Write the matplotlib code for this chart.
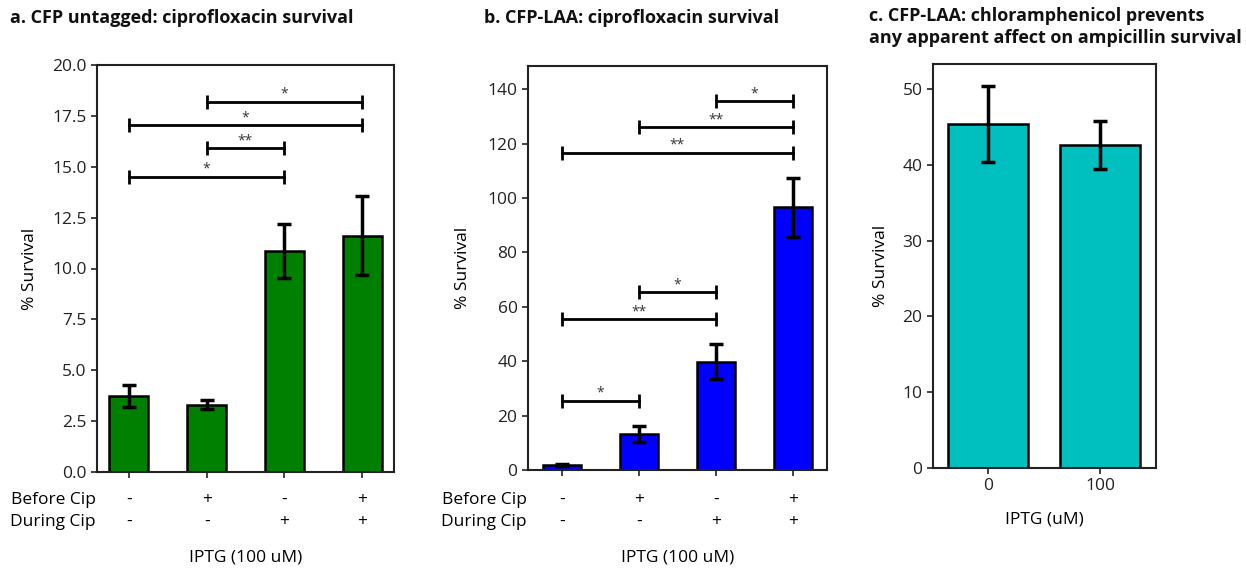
import matplotlib
matplotlib.use("Agg")
import matplotlib.pyplot as plt
import matplotlib.transforms as mtransforms

plt.rcParams['font.family'] = ['Open Sans', 'DejaVu Sans']

# ---- data ----
before_cip = ['-', '+', '-', '+']
during_cip = ['-', '-', '+', '+']

a_vals = [3.72, 3.30, 10.86, 11.62]
a_errs = [0.55, 0.22, 1.33, 1.95]
a_sig = [(0, 2, 14.5, '*'), (1, 2, 15.9, '**'), (0, 3, 17.05, '*'), (1, 3, 18.2, '*')]
a_yticks = [0.0, 2.5, 5.0, 7.5, 10.0, 12.5, 15.0, 17.5, 20.0]

b_vals = [1.8, 13.2, 39.8, 96.5]
b_errs = [0.3, 3.0, 6.5, 11.0]
b_sig = [(0, 1, 25.5, '*'), (0, 2, 55.5, '**'), (1, 2, 65.3, '*'),
         (0, 3, 116.6, '**'), (1, 3, 126.0, '**'), (2, 3, 135.6, '*')]
b_yticks = [0, 20, 40, 60, 80, 100, 120, 140]

c_labels = ['0', '100']
c_vals = [45.4, 42.6]
c_errs = [5.0, 3.2]
c_yticks = [0, 10, 20, 30, 40, 50]

W, H = 1246, 571
fig = plt.figure(figsize=(W / 100, H / 100), dpi=100)

def px_axes(l, t, r, b):
    return fig.add_axes([l / W, (H - b) / H, (r - l) / W, (b - t) / H])

TICK_FS = 12.5
LABEL_FS = 12.5
TITLE_FS = 13

def style(ax):
    for s in ax.spines.values():
        s.set_linewidth(1.5)
        s.set_color('#222222')
    ax.tick_params(axis='both', direction='out', length=4, width=1.2,
                   labelsize=TICK_FS, colors='#222222')

def draw_sig(ax, sigs):
    for x0, x1, y, lab in sigs:
        ax.plot([x0, x1], [y, y], color='black', lw=2, zorder=5)
        ax.plot([x0, x1], [y, y], linestyle='none', marker='|', markersize=10,
                markeredgewidth=2, color='black', zorder=5)
        ax.text((x0 + x1) / 2, y, lab, ha='center', va='bottom',
                fontsize=10, color='#333333', zorder=6)

def condition_rows(ax):
    trans = mtransforms.blended_transform_factory(ax.transData, fig.transFigure)
    trans_ax = mtransforms.blended_transform_factory(ax.transAxes, fig.transFigure)
    y1 = (H - 500) / H
    y2 = (H - 522) / H
    ax.text(-0.005, y1, 'Before Cip', transform=trans_ax, ha='right', va='center',
            fontsize=LABEL_FS)
    ax.text(-0.005, y2, 'During Cip', transform=trans_ax, ha='right', va='center',
            fontsize=LABEL_FS)
    for i, (bc, dc) in enumerate(zip(before_cip, during_cip)):
        ax.text(i, y1, bc, transform=trans, ha='center', va='center', fontsize=LABEL_FS)
        ax.text(i, y2, dc, transform=trans, ha='center', va='center', fontsize=LABEL_FS)
    ax.text(0.5, (H - 557) / H, 'IPTG (100 uM)', transform=trans_ax, ha='center',
            va='center', fontsize=LABEL_FS)

# ---- panel a ----
ax = px_axes(97, 65, 394, 472)
x = list(range(len(a_vals)))
ax.bar(x, a_vals, width=0.5, color='#008000', edgecolor='black', linewidth=1.8, zorder=2)
ax.errorbar(x, a_vals, yerr=a_errs, fmt='none', ecolor='black', elinewidth=2.5,
            capsize=5, capthick=2.5, zorder=3)
draw_sig(ax, a_sig)
ax.set_xlim(-0.41, 3.41)
ax.set_ylim(0, 20)
ax.set_yticks(a_yticks)
ax.set_yticklabels([f'{v:.1f}' for v in a_yticks])
ax.set_xticks(x)
ax.set_xticklabels([])
ax.set_ylabel('% Survival', fontsize=LABEL_FS, labelpad=10)
style(ax)
condition_rows(ax)
fig.text(10 / W, (H - 18) / H, 'a. CFP untagged: ciprofloxacin survival',
         fontsize=TITLE_FS, fontweight='bold', ha='left', va='center', color='#111111')

# ---- panel b ----
ax = px_axes(528, 66, 827, 470)
x = list(range(len(b_vals)))
ax.bar(x, b_vals, width=0.5, color='#0000ff', edgecolor='black', linewidth=1.8, zorder=2)
ax.errorbar(x, b_vals, yerr=b_errs, fmt='none', ecolor='black', elinewidth=2.5,
            capsize=5, capthick=2.5, zorder=3)
draw_sig(ax, b_sig)
ax.set_xlim(-0.44, 3.44)
ax.set_ylim(0, 148.5)
ax.set_yticks(b_yticks)
ax.set_xticks(x)
ax.set_xticklabels([])
ax.set_ylabel('% Survival', fontsize=LABEL_FS, labelpad=12)
style(ax)
condition_rows(ax)
fig.text(484 / W, (H - 18) / H, 'b. CFP-LAA: ciprofloxacin survival',
         fontsize=TITLE_FS, fontweight='bold', ha='left', va='center', color='#111111')

# ---- panel c ----
ax = px_axes(933, 64, 1156, 468)
x = list(range(len(c_vals)))
ax.bar(x, c_vals, width=0.71, color='#00bfbf', edgecolor='black', linewidth=1.8, zorder=2)
ax.errorbar(x, c_vals, yerr=c_errs, fmt='none', ecolor='black', elinewidth=2.5,
            capsize=5, capthick=2.5, zorder=3)
ax.set_xlim(-0.49, 1.5)
ax.set_ylim(0, 53.3)
ax.set_yticks(c_yticks)
ax.set_xticks(x)
ax.set_xticklabels(c_labels)
ax.set_xlabel('IPTG (uM)', fontsize=LABEL_FS, labelpad=12)
ax.set_ylabel('% Survival', fontsize=LABEL_FS, labelpad=10)
style(ax)
fig.text(869 / W, (H - 27) / H,
         'c. CFP-LAA: chloramphenicol prevents\nany apparent affect on ampicillin survival',
         fontsize=TITLE_FS, fontweight='bold', ha='left', va='center', color='#111111',
         linespacing=1.25)

fig.savefig('out.png', dpi=100)
